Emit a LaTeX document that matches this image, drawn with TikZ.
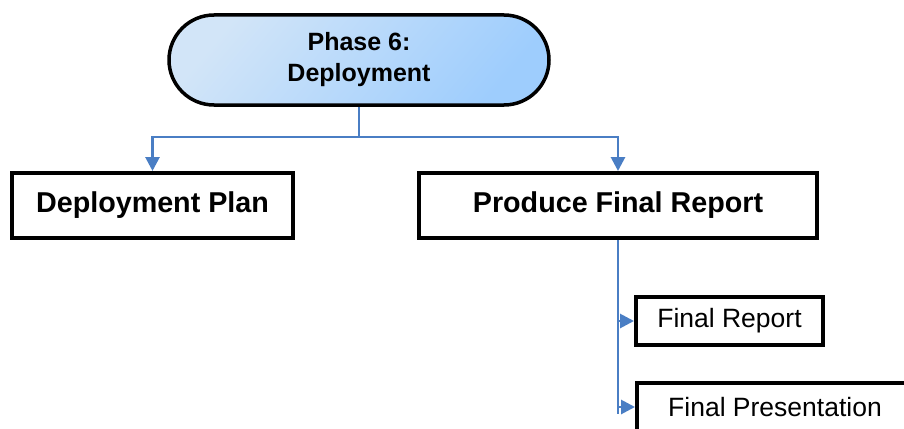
\documentclass[tikz,border=0pt]{standalone}
\usepackage{fontspec}
\setmainfont{Liberation Sans}
\usetikzlibrary{arrows.meta,shapes.misc}
\definecolor{pillLight}{HTML}{D2E5F8}
\definecolor{pillMid}{HTML}{B3D7FB}
\definecolor{pillDark}{HTML}{9ECDFD}
\definecolor{linkBlue}{HTML}{4A7EC4}
\tikzset{
  pill/.style={rounded rectangle, draw=black, line width=3.5pt,
    left color=pillLight, middle color=pillMid, right color=pillDark, shading angle=50,
    minimum width=380pt, minimum height=90pt, inner sep=0pt,
    align=center, font=\bfseries\fontsize{25}{31}\selectfont},
  bigbox/.style={rectangle, draw=black, line width=4pt, fill=white,
    minimum height=65pt, inner sep=0pt,
    font=\bfseries\fontsize{28.7}{32}\selectfont},
  smallbox/.style={rectangle, draw=black, line width=4pt, fill=white,
    minimum height=48pt, inner sep=0pt,
    font=\fontsize{26.5}{30}\selectfont},
  link/.style={draw=linkBlue, line width=2.8pt,
    -{Triangle[length=14pt,width=14pt]}},
  plainlink/.style={draw=linkBlue, line width=2.8pt}
}
\begin{document}
\begin{tikzpicture}[x=1pt,y=-1pt]
\useasboundingbox (0,0) rectangle (904,428);
\clip (0,0) rectangle (904,428);
\node[pill] (phase) at (359,60) {Phase 6:\\Deployment};
\node[bigbox, minimum width=281pt] (dp) at (152.5,205.5) {Deployment Plan};
\node[bigbox, minimum width=398pt] (pfr) at (618,205.5) {Produce Final Report};
\node[smallbox, minimum width=187pt] (fr) at (729.5,321) {Final Report};
\node[smallbox, minimum width=276pt] (fp) at (775,407) {Final Presentation};
\coordinate (split) at (359,137);
\coordinate (vend) at (618,414);
\draw[plainlink] (phase.south) -- (split);
\draw[link] (split) -| (dp.north);
\draw[link] (split) -| (pfr.north);
\draw[plainlink] (pfr.south) -- (vend);
\draw[link] (pfr.south) |- (fr.west);
\draw[link] (pfr.south) |- (fp.west);
\end{tikzpicture}
\end{document}
